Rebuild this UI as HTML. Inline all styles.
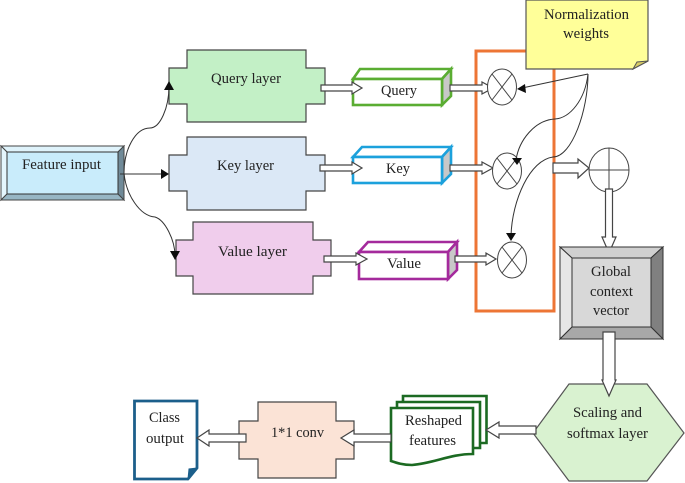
<!DOCTYPE html>
<html>
<head>
<meta charset="utf-8">
<style>
html,body{margin:0;padding:0;background:#fff;width:685px;height:483px;overflow:hidden}
svg{display:block}
text{font-family:"Liberation Serif",serif;font-size:15px;fill:#222;text-anchor:start}
.a{fill:#fff;stroke:#444;stroke-width:1.2}
.c{fill:#fff;stroke:#444;stroke-width:1}
.l{stroke:#444;stroke-width:1;fill:none}
.t{stroke:#333;stroke-width:1;fill:none}
.h{fill:#111;stroke:none}
</style>
</head>
<body>
<svg width="685" height="483" viewBox="0 0 685 483" xmlns="http://www.w3.org/2000/svg">
<defs><filter id="b" x="-2%" y="-2%" width="104%" height="104%"><feGaussianBlur stdDeviation="0.35"/></filter></defs>
<g filter="url(#b)">

<!-- Feature input -->
<rect x="1" y="146" width="123" height="54" fill="#c9ecfb"/>
<polygon points="1,146 124,146 118,152 7,152" fill="#dff3fb" stroke="#444"/>
<polygon points="1,146 7,152 7,194 1,200" fill="#e4f6fd" stroke="#444"/>
<polygon points="124,146 118,152 118,194 124,200" fill="#6f8a98" stroke="#444"/>
<polygon points="1,200 7,194 118,194 124,200" fill="#97b6c4" stroke="#444"/>
<rect x="7" y="152" width="111" height="42" fill="#c9ecfb" stroke="#333"/>
<text x="22" y="169" textLength="79" lengthAdjust="spacingAndGlyphs">Feature input</text>

<!-- layers -->
<polygon points="187,50 306,50 306,68 325,68 325,104 306,104 306,122 187,122 187,104 169,104 169,68 187,68" fill="#c3f0c6" stroke="#444" stroke-width="1.2"/>
<text x="211" y="83" textLength="70" lengthAdjust="spacingAndGlyphs">Query layer</text>
<polygon points="187,137 306,137 306,155 325,155 325,191 306,191 306,210 187,210 187,191 169,191 169,155 187,155" fill="#dbe8f6" stroke="#444" stroke-width="1.2"/>
<text x="217" y="170" textLength="57" lengthAdjust="spacingAndGlyphs">Key layer</text>
<polygon points="193,222 313,222 313,240 331,240 331,276 313,276 313,294 193,294 193,276 176,276 176,240 193,240" fill="#f0cdec" stroke="#444" stroke-width="1.2"/>
<text x="218" y="256" textLength="69" lengthAdjust="spacingAndGlyphs">Value layer</text>

<!-- feature curves -->
<path class="t" d="M124,173 C124,150 135,128 150,128 C160,128 169,108 169,86"/>
<polygon class="h" points="169,81 164,90 174,90"/>
<path class="t" d="M120,174 L164,174"/>
<polygon class="h" points="169,174 161,169 161,179"/>
<path class="t" d="M124,173 C126,195 140,216 155,217 C165,220 175,240 175,256"/>
<polygon class="h" points="175,260 170,251 180,251"/>

<!-- Orange box -->
<rect x="476" y="51" width="78" height="260" fill="none" stroke="#ed7435" stroke-width="3"/>

<!-- Note -->
<polygon points="526,0 648,0 648,61 633,69 526,69" fill="#ffff99" stroke="#555" stroke-width="1.2"/>
<polygon points="633,69 637,62 648,61" fill="#d8cc66" stroke="#555"/>
<text x="544" y="19" textLength="85" lengthAdjust="spacingAndGlyphs">Normalization</text>
<text x="563" y="38" textLength="46" lengthAdjust="spacingAndGlyphs">weights</text>

<!-- 3D boxes -->
<g stroke-width="2.6" stroke-linejoin="miter">
<polygon points="353,79 442,79 451,69 360,69" fill="#fff" stroke="#5aad32"/>
<polygon points="442,79 451,69 451,96 442,105" fill="#c8c8c8" stroke="#5aad32"/>
<rect x="353" y="79" width="89" height="26" fill="#fff" stroke="#5aad32"/>
<polygon points="353,157 442,157 451,147 362,147" fill="#fff" stroke="#1ba1dc"/>
<polygon points="442,157 451,147 451,174 442,183" fill="#c8c8c8" stroke="#1ba1dc"/>
<rect x="353" y="157" width="89" height="26" fill="#fff" stroke="#1ba1dc"/>
<polygon points="359,252 448,252 457,242 368,242" fill="#fff" stroke="#a42a9c"/>
<polygon points="448,252 457,242 457,270 448,279" fill="#c8c8c8" stroke="#a42a9c"/>
<rect x="359" y="252" width="89" height="27" fill="#fff" stroke="#a42a9c"/>
</g>
<text x="381" y="95" textLength="36" lengthAdjust="spacingAndGlyphs">Query</text>
<text x="386" y="173" textLength="24" lengthAdjust="spacingAndGlyphs">Key</text>
<text x="387" y="268" textLength="34" lengthAdjust="spacingAndGlyphs">Value</text>

<!-- block arrows: layer -> box -->
<polygon class="a" points="321,85 352,85 352,82 362,88 352,94 352,91 321,91"/>
<polygon class="a" points="320,165 352,165 352,162 362,168 352,174 352,171 320,171"/>
<polygon class="a" points="324,256 356,256 356,253 367,259 356,265 356,262 324,262"/>
<!-- box -> circles -->
<polygon class="a" points="450,85 482,85 482,82 493,88 482,94 482,91 450,91"/>
<polygon class="a" points="450,165 482,165 482,162 493,168 482,174 482,171 450,171"/>
<polygon class="a" points="455,256 486,256 486,253 496,259 486,265 486,262 455,262"/>

<!-- Circles with X -->
<g>
<ellipse class="c" cx="502" cy="87" rx="14.5" ry="18"/>
<path class="l" d="M492,74 L512,100 M512,74 L492,100"/>
<ellipse class="c" cx="507" cy="171" rx="14.5" ry="18"/>
<path class="l" d="M497,158 L517,184 M517,158 L497,184"/>
<ellipse class="c" cx="512" cy="260" rx="14.5" ry="18"/>
<path class="l" d="M502,247 L522,273 M522,247 L502,273"/>
</g>

<!-- thin arrows from note -->
<path class="t" d="M588,74 L522,88"/>
<polygon class="h" points="517,89 525,84 526,93"/>
<path class="t" d="M588,74 C585,100 570,118 555,119 C535,120 519,140 516,160"/>
<polygon class="h" points="517,165 512,158 522,158"/>
<path class="t" d="M588,74 C588,110 572,157 553,157 C530,160 512,200 511,236"/>
<polygon class="h" points="511,241 506,233 516,233"/>

<!-- to plus -->
<polygon class="a" points="553,163 578,163 578,159 589,168 578,178 578,173 553,173"/>
<ellipse class="c" cx="609" cy="170" rx="20" ry="22"/>
<path class="l" d="M589,170 L629,170 M609,148 L609,192"/>
<polygon class="a" points="605.5,189 612.5,189 612.5,237 616,237 609,253 602,237 605.5,237"/>

<!-- Global -->
<rect x="560" y="247" width="103" height="92" fill="#d8d8d8"/>
<polygon points="560,247 663,247 651,258 572,258" fill="#d0d0d0" stroke="#333"/>
<polygon points="560,247 572,258 572,327 560,339" fill="#e6e6e6" stroke="#333"/>
<polygon points="663,247 651,258 651,327 663,339" fill="#808080" stroke="#333"/>
<polygon points="560,339 572,327 651,327 663,339" fill="#a8a8a8" stroke="#333"/>
<rect x="572" y="258" width="79" height="69" fill="#d8d8d8" stroke="#333"/>
<text x="591" y="276" textLength="40" lengthAdjust="spacingAndGlyphs">Global</text>
<text x="590" y="296" textLength="43" lengthAdjust="spacingAndGlyphs">context</text>
<text x="593" y="315" textLength="36" lengthAdjust="spacingAndGlyphs">vector</text>

<!-- Hexagon -->
<polygon points="569,384 647,384 684,433 647,481 569,481 533,433" fill="#d9f2d0" stroke="#555" stroke-width="1.2"/>
<text x="573" y="417" textLength="69" lengthAdjust="spacingAndGlyphs">Scaling and</text>
<text x="567" y="438" textLength="81" lengthAdjust="spacingAndGlyphs">softmax layer</text>
<polygon class="a" points="603,332 615,332 615,380 616,380 609,396 602,380 603,380"/>

<!-- Reshaped -->
<g fill="#fff" stroke="#1a6b22" stroke-width="2.6">
<path d="M403,396 H486.5 V443 H403 Z"/>
<path d="M397,402 H480 V448 H397 Z"/>
<path d="M391,408 H473 V454 C450,454 435,463 412,465 C403,465 397,463 391,461 Z"/>
</g>
<text x="405" y="425" textLength="57" lengthAdjust="spacingAndGlyphs">Reshaped</text>
<text x="409" y="445" textLength="47" lengthAdjust="spacingAndGlyphs">features</text>

<polygon class="a" points="536,426 499,426 499,422 486,430 499,438 499,434 536,434"/>

<!-- conv -->
<polygon points="258,402 336,402 336,421 354,421 354,459 336,459 336,478 258,478 258,459 239,459 239,421 258,421" fill="#fbe3d6" stroke="#444" stroke-width="1.2"/>
<text x="271" y="437" textLength="53" lengthAdjust="spacingAndGlyphs">1*1 conv</text>
<polygon class="a" points="391,434 354,434 354,430 341,438 354,446 354,442 391,442"/>

<!-- Class output -->
<polygon points="134.5,401 197,401 197,468 188,479 134.5,479" fill="#fff" stroke="#1f5f8b" stroke-width="2.8"/>
<polygon points="188,479 189,469 197,468" fill="#1f5f8b" stroke="#1f5f8b"/>
<text x="149" y="422" textLength="31" lengthAdjust="spacingAndGlyphs">Class</text>
<text x="146" y="443" textLength="38" lengthAdjust="spacingAndGlyphs">output</text>
<polygon class="a" points="246,434 209,434 209,430 197,438 209,446 209,442 246,442"/>

</g>
</svg>
</body>
</html>
